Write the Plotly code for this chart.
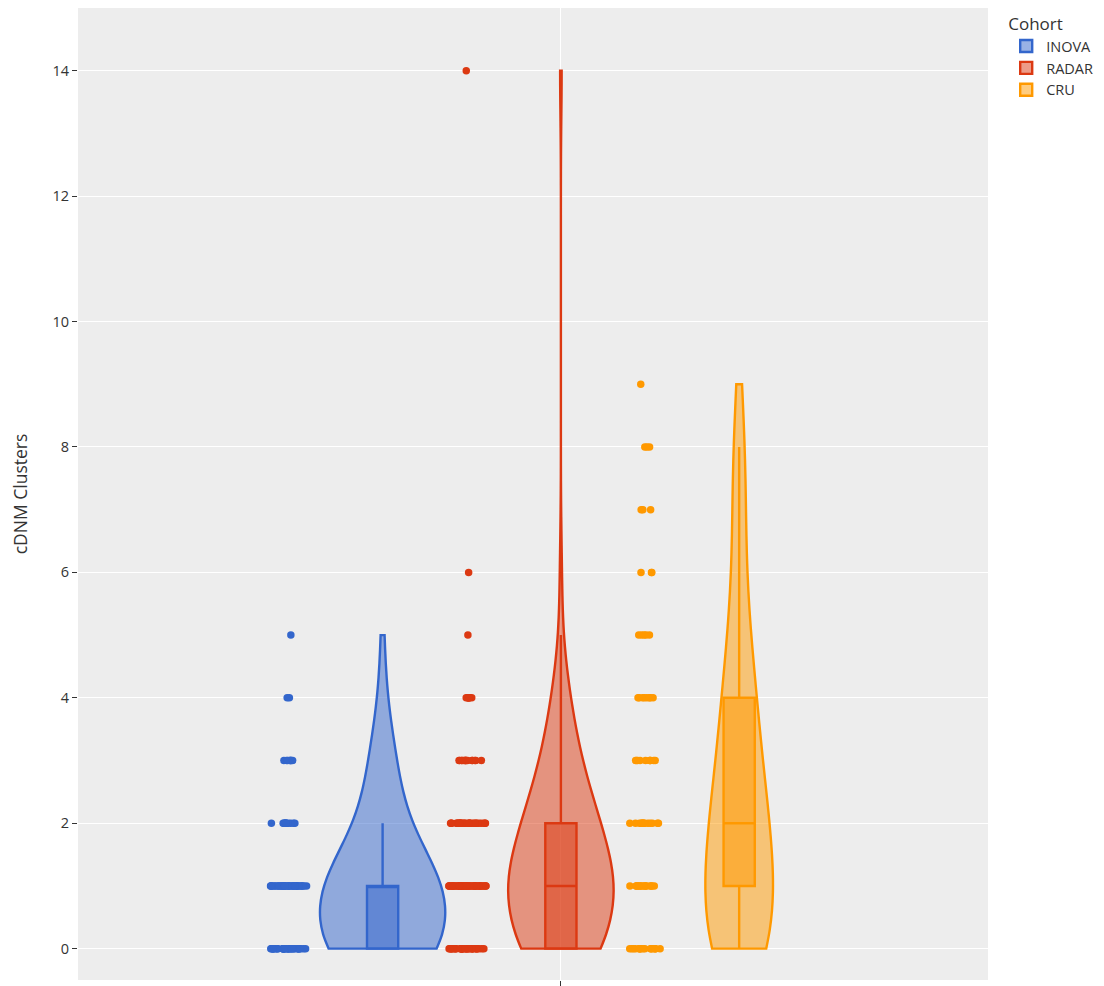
import numpy as np
import plotly.graph_objects as go

cohorts = ["INOVA", "RADAR", "CRU"]
colors = ["#3366CC", "#DC3912", "#FF9900"]

inova_values = [0, 1, 2, 3, 4, 5]
inova_counts = [37, 37, 12, 8, 2, 1]

radar_values = [0, 1, 2, 3, 4, 5, 6, 14]
radar_counts = [35, 45, 30, 15, 7, 1, 1, 1]

cru_values = [0, 1, 2, 3, 4, 5, 6, 7, 8, 9]
cru_counts = [17, 16, 14, 10, 8, 5, 3, 3, 3, 1]

bandwidths = [0.7, 0.7, 0.9]

series = [
    np.repeat(inova_values, inova_counts),
    np.repeat(radar_values, radar_counts),
    np.repeat(cru_values, cru_counts),
]

fig = go.Figure()
for name, col, vals, bw in zip(cohorts, colors, series, bandwidths):
    fig.add_trace(go.Violin(
        y=vals,
        x0=" ",
        name=name,
        legendgroup=name,
        offsetgroup=name,
        scalegroup="all",
        line=dict(color=col, width=2.4),
        marker=dict(color=col, size=7.5),
        box=dict(visible=True),
        points="all",
        spanmode="hard",
        bandwidth=bw,
    ))

fig.update_layout(
    template="ggplot2",
    width=1104,
    height=986,
    violinmode="group",
    font=dict(size=14.5),
    margin=dict(l=70, r=124, t=0, b=14, autoexpand=False),
    legend=dict(title=dict(text="Cohort", font=dict(size=17)), tracegroupgap=0,
                font=dict(size=14.5)),
    yaxis=dict(title=dict(text="cDNM Clusters", font=dict(size=17.5), standoff=24),
               range=[-0.5, 15], dtick=2, automargin=False,
               tickfont=dict(size=14.5)),
    xaxis=dict(range=[-0.632, 0.559], automargin=False),
)

fig.write_html("out.html")
